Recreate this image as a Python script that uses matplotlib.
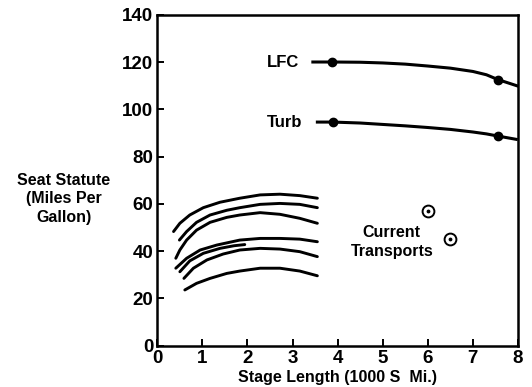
import matplotlib.pyplot as plt

plt.rcParams['font.family'] = ['Liberation Sans', 'DejaVu Sans']
plt.rcParams['font.weight'] = 'bold'
plt.rcParams['axes.labelweight'] = 'bold'

# LFC and turbofan projections
lfc_x = [3.45, 3.88, 4.5, 5.0, 5.5, 6.0, 6.5, 7.0, 7.3, 7.55, 8.0]
lfc_y = [120.0, 120.0, 119.9, 119.6, 119.1, 118.3, 117.4, 116.0, 114.6, 112.6, 109.8]
lfc_dots_x = [3.88, 7.55]
lfc_dots_y = [120.0, 112.6]

turb_x = [3.55, 3.9, 4.5, 5.0, 5.5, 6.0, 6.5, 7.0, 7.3, 7.55, 7.96]
turb_y = [94.6, 94.6, 94.2, 93.6, 93.0, 92.3, 91.5, 90.4, 89.6, 88.7, 87.3]
turb_dots_x = [3.9, 7.55]
turb_dots_y = [94.6, 88.7]

# current transports
cur_x = [6.0, 6.5]
cur_y = [57.2, 45.0]

# existing aircraft curves
curves = [
    ([0.36, 0.50, 0.72, 1.02, 1.39, 1.83, 2.28, 2.72, 3.16, 3.55],
     [48.3, 51.8, 55.3, 58.4, 60.7, 62.4, 63.8, 64.1, 63.5, 62.4]),
    ([0.49, 0.65, 0.87, 1.17, 1.54, 1.83, 2.28, 2.72, 3.16, 3.55],
     [44.7, 48.3, 52.2, 55.3, 57.3, 58.4, 59.8, 60.2, 59.8, 58.4]),
    ([0.41, 0.50, 0.65, 0.87, 1.17, 1.54, 1.83, 2.28, 2.72, 3.16, 3.55],
     [37.0, 40.5, 44.7, 48.9, 52.2, 54.3, 55.3, 56.3, 55.6, 53.9, 51.8]),
    ([0.41, 0.65, 0.95, 1.32, 1.83, 2.28, 2.72, 3.16, 3.55],
     [32.8, 37.0, 40.5, 42.6, 44.7, 45.4, 45.4, 45.1, 44.0]),
    ([0.50, 0.72, 1.02, 1.39, 1.70, 1.94],
     [31.3, 35.9, 39.1, 41.2, 42.3, 42.8]),
    ([0.59, 0.80, 1.10, 1.46, 1.83, 2.28, 2.72, 3.16, 3.55],
     [28.5, 32.8, 36.3, 38.8, 40.5, 41.2, 40.9, 39.8, 37.7]),
    ([0.61, 0.87, 1.17, 1.54, 1.83, 2.28, 2.72, 3.16, 3.55],
     [23.6, 26.4, 28.5, 30.6, 31.6, 32.8, 32.8, 31.6, 29.6]),
]

fig = plt.figure(figsize=(5.32, 3.87), dpi=100)
ax = fig.add_axes([0.2957, 0.1065, 0.678, 0.8555])

for cx, cy in curves:
    ax.plot(cx, cy, 'k-', lw=2.1, solid_capstyle='round', solid_joinstyle='round')

ax.plot(lfc_x, lfc_y, 'k-', lw=2.2, solid_joinstyle='round')
ax.plot(lfc_dots_x, lfc_dots_y, 'ko', ms=6)
ax.plot(turb_x, turb_y, 'k-', lw=2.2, solid_joinstyle='round')
ax.plot(turb_dots_x, turb_dots_y, 'ko', ms=6)

ax.plot(cur_x, cur_y, 'o', ms=8.5, mfc='white', mec='k', mew=1.4)
ax.plot(cur_x, cur_y, 'k.', ms=3.5)

ax.text(3.15, 120, 'LFC', fontsize=12, ha='right', va='center')
ax.text(3.22, 94.5, 'Turb', fontsize=12, ha='right', va='center')
ax.text(5.2, 43.8, 'Current\nTransports', fontsize=11.5, ha='center', va='center',
        linespacing=1.35)

ax.set_xlim(0, 8)
ax.set_ylim(0, 140)
ax.set_xticks(range(0, 9))
ax.set_yticks(range(0, 141, 20))
ax.tick_params(direction='in', length=5, width=1.4, labelsize=13.5, pad=3)
for s in ax.spines.values():
    s.set_linewidth(1.8)

ax.set_xlabel('Stage Length (1000 S  Mi.)', fontsize=11.5, labelpad=2)
fig.text(64 / 532, 1 - 199 / 387, 'Seat Statute\n(Miles Per\nGallon)',
         fontsize=11.5, ha='center', va='center', linespacing=1.3)

fig.savefig('out.png', dpi=100)
